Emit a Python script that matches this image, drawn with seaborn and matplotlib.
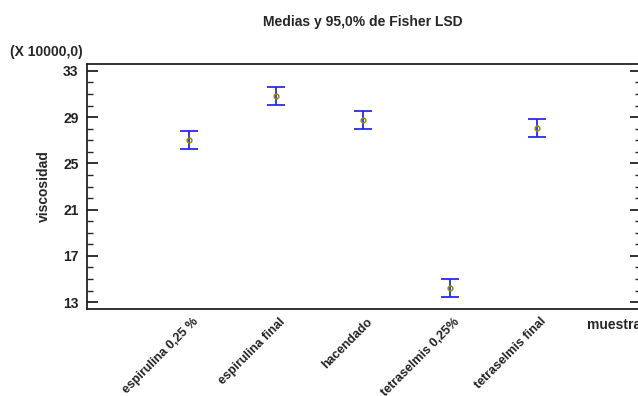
import matplotlib
matplotlib.use("Agg")
import matplotlib.pyplot as plt
from matplotlib.ticker import MultipleLocator
from matplotlib.transforms import ScaledTranslation
import numpy as np
import pandas as pd
import seaborn as sns

# Group means and Fisher LSD half-intervals (in units of 10000)
muestras = ["espirulina 0,25 %", "espirulina final", "hacendado",
            "tetraselmis 0,25%", "tetraselmis final"]
medias = [27.05, 30.81, 28.76, 14.19, 28.09]
semi_lsd = [0.79, 0.78, 0.79, 0.78, 0.78]

y_ticks = [13, 17, 21, 25, 29, 33]

sns.set_style("white")
plt.rcParams["font.family"] = ["Liberation Sans", "DejaVu Sans"]
plt.rcParams["font.weight"] = "bold"

df = pd.DataFrame({"muestra": muestras, "viscosidad": medias, "lsd": semi_lsd})

fig = plt.figure(figsize=(6.38, 3.96), dpi=100)
ax = fig.add_axes([87 / 638, 1 - 309 / 396, (641 - 87) / 638, (309 - 64) / 396])

# LSD intervals
ax.errorbar(np.arange(len(df)), df["viscosidad"], yerr=df["lsd"], fmt="none",
            ecolor="#2a2af0", elinewidth=1.3, capsize=6.5, capthick=1.3, zorder=2)

# group means
sns.pointplot(data=df, x="muestra", y="viscosidad", order=muestras,
              linestyle="none", errorbar=None, marker="o", markersize=3.4,
              markerfacecolor="none", markeredgecolor="#8c8c10",
              markeredgewidth=1.1, color="#8c8c10", ax=ax, zorder=3)

ax.set_xlim(-1.17, 5.19)
ax.set_ylim(12.4, 33.6)
ax.set_yticks(y_ticks)
ax.yaxis.set_minor_locator(MultipleLocator(1))

for side in ["top", "bottom", "left", "right"]:
    ax.spines[side].set_visible(True)
    ax.spines[side].set_color("#222222")
    ax.spines[side].set_linewidth(1.3)

ax.tick_params(axis="y", which="major", direction="in", length=8, width=1.3,
               left=True, right=True, labelsize=10, pad=6, colors="#222222")
ax.tick_params(axis="y", which="minor", direction="in", length=4, width=1.0,
               left=True, right=True)
ax.tick_params(axis="x", which="both", length=0, pad=4, labelsize=9, colors="#222222")
for lab in ax.get_yticklabels():
    lab.set_fontweight("bold")

ax.set_xticks(range(len(muestras)))
ax.set_xticklabels(muestras, rotation=45, ha="right", rotation_mode="anchor",
                   fontweight="bold")
shift = ScaledTranslation(3 / 100, -1 / 100, fig.dpi_scale_trans)
for lab in ax.get_xticklabels():
    lab.set_transform(lab.get_transform() + shift)

ax.set_xlabel("")
ax.set_ylabel("viscosidad", fontsize=10, fontweight="bold", labelpad=9)

fig.text(587 / 638, 1 - 325 / 396, "muestra", fontsize=10, fontweight="bold",
         ha="left", va="center")
fig.text(10 / 638, 1 - 52 / 396, "(X 10000,0)", fontsize=10, fontweight="bold",
         ha="left", va="center")
fig.text(363 / 638, 1 - 22 / 396, "Medias y 95,0% de Fisher LSD", fontsize=10,
         fontweight="bold", ha="center", va="center")

fig.savefig("out.png", dpi=100)
